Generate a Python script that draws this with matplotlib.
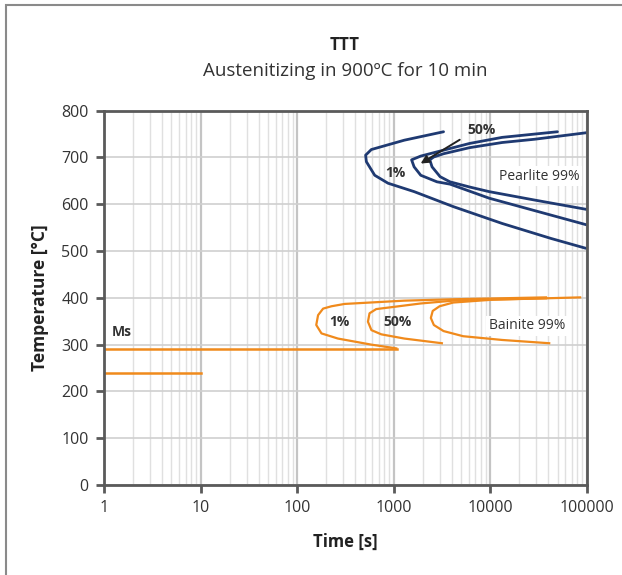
import matplotlib.pyplot as plt
import matplotlib.patches as patches
from matplotlib.ticker import LogLocator, FixedLocator, NullFormatter

plt.rcParams['font.family'] = ['Open Sans', 'DejaVu Sans']

# time [s] and temperature [°C]
pearlite_1_t = [3290, 1292, 588, 513, 522, 637, 875, 1633, 4150, 13300, 42600, 97700]
pearlite_1_T = [755, 737, 717, 705, 691, 662, 645, 627, 595, 559, 527, 506]

pearlite_50_t = [49800, 13300, 6120, 2810, 1910, 1535, 1630, 1910, 2810, 3840, 9770, 100000]
pearlite_50_T = [755, 743, 730, 712, 703, 695, 680, 662, 648, 643, 613, 556]

pearlite_99_t = [100000, 28900, 13300, 6120, 3290, 2600, 2370, 2500, 3030, 3830, 6100, 9770, 28900, 100000]
pearlite_99_T = [753, 739, 732, 721, 708, 701, 695, 680, 659, 648, 637, 627, 609, 589]

bainite_1_t = [1065, 588, 265, 179, 158, 165, 186, 227, 311, 1292, 4150, 37900]
bainite_1_T = [292, 300, 313, 324, 342, 363, 377, 382, 387, 394, 397, 401]

bainite_50_t = [3160, 1292, 746, 589, 542, 563, 660, 946, 1910, 4150, 8350, 37900]
bainite_50_T = [303, 313, 322, 331, 349, 367, 376, 380, 388, 394, 396, 399]

bainite_99_t = [40900, 13300, 5250, 3290, 2610, 2430, 2540, 2990, 4150, 10500, 85500]
bainite_99_T = [303, 310, 318, 329, 342, 357, 372, 382, 390, 396, 401]

ms_t = [1, 1090]
ms_T = [290, 290]
mf_t = [1, 10]
mf_T = [240, 240]

x_ticks = [1, 10, 100, 1000, 10000, 100000]
y_ticks = [0, 100, 200, 300, 400, 500, 600, 700, 800]

navy = '#1f3a72'
orange = '#f08a1c'

fig = plt.figure(figsize=(6.22, 5.75), dpi=100)
ax = fig.add_axes([104 / 622, 90 / 575, 482.7 / 622, 374.3 / 575])

# frame round the whole picture
fig.patches.append(patches.Rectangle((6 / 622, -0.1), 1.2, 1.1 - 5 / 575,
                                     transform=fig.transFigure, fill=False,
                                     edgecolor='#8a8a8a', lw=1.5))

ax.set_xscale('log')
ax.set_xlim(1, 100000)
ax.set_ylim(0, 800)

ax.xaxis.set_major_locator(FixedLocator(x_ticks))
ax.set_xticklabels([str(v) for v in x_ticks])
ax.xaxis.set_minor_locator(LogLocator(base=10, subs=range(2, 10)))
ax.xaxis.set_minor_formatter(NullFormatter())
ax.set_yticks(y_ticks)

ax.grid(which='major', axis='x', color='#c4c4c4', lw=1.6)
ax.grid(which='minor', axis='x', color='#e0e0e0', lw=1.0)
ax.grid(which='major', axis='y', color='#d0d0d0', lw=1.2)
ax.set_axisbelow(True)

for s in ax.spines.values():
    s.set_color('#5a5a5a')
    s.set_linewidth(2)
ax.tick_params(which='major', direction='out', length=6, width=2, color='#5a5a5a',
               labelsize=11.5, labelcolor='#333333', pad=5)
ax.tick_params(which='minor', length=0)

for t, T in [(pearlite_1_t, pearlite_1_T), (pearlite_50_t, pearlite_50_T), (pearlite_99_t, pearlite_99_T)]:
    ax.plot(t, T, color=navy, lw=2.0, solid_joinstyle='round', solid_capstyle='round', clip_on=False)
for t, T in [(bainite_1_t, bainite_1_T), (bainite_50_t, bainite_50_T), (bainite_99_t, bainite_99_T)]:
    ax.plot(t, T, color=orange, lw=1.6, solid_joinstyle='round', clip_on=False)
ax.plot(ms_t, ms_T, color=orange, lw=1.8)
ax.plot(mf_t, mf_T, color=orange, lw=1.8)

# labels
bold = dict(fontsize=10, fontweight='bold', color='#333333', ha='center', va='center')
box = dict(facecolor='white', edgecolor='none', pad=2)
ax.text(1050, 667, '1%', **bold)
ax.text(8130, 758, '50%', **bold)
ax.annotate('', xy=(1800, 684), xytext=(5120, 741),
            arrowprops=dict(arrowstyle='-|>', color='#222222', lw=1.4, mutation_scale=12))
ax.text(32200, 660, 'Pearlite 99%', fontsize=10, color='#333333', ha='center', va='center', bbox=box)
ax.text(277, 348, '1%', **bold)
ax.text(1097, 348, '50%', **bold)
ax.text(24000, 340, 'Bainite 99%', fontsize=10, color='#333333', ha='center', va='center', bbox=box)
ax.text(1.19, 327, 'Ms', fontsize=10, fontweight='bold', color='#333333', ha='left', va='center')

ax.set_xlabel('Time [s]', fontsize=12, fontweight='bold', color='#222222', labelpad=12)
ax.set_ylabel('Temperature [°C]', fontsize=12.5, fontweight='bold', color='#222222', labelpad=9)

cx = 345 / 622
fig.text(cx, 1 - 45 / 575, 'TTT', fontsize=12, fontweight='bold', color='#222222', ha='center', va='center')
fig.text(cx, 1 - 71 / 575, 'Austenitizing in 900ºC for 10 min', fontsize=13.5, color='#333333',
         ha='center', va='center')

fig.savefig('out.png', dpi=100)
